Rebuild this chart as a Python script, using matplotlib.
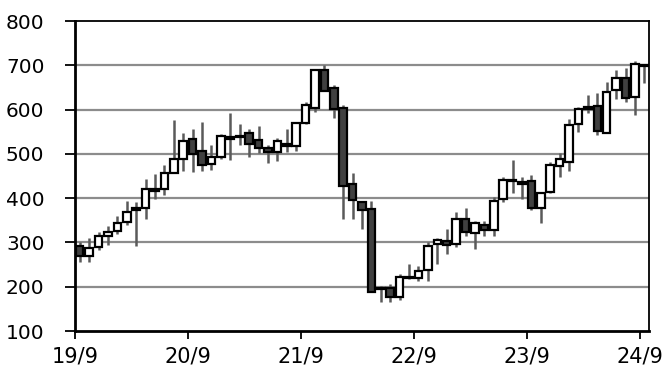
import matplotlib
matplotlib.use("Agg")
import matplotlib.pyplot as plt
import numpy as np

# monthly candles, 2019/9 .. 2024/9
opens = [292, 269, 290, 314, 325, 347, 374, 377, 417, 420, 456, 489, 533, 507, 478,
         492, 533, 537, 546, 531, 514, 504, 523, 518, 570, 604, 689, 649, 604, 433,
         391, 376, 195, 198, 176, 220, 220, 238, 296, 304, 296, 353, 321, 340, 329,
         397, 441, 437, 438, 377, 414, 473, 482, 567, 601, 608, 547, 645, 672, 629, 701]
closes = [270, 288, 314, 324, 345, 369, 377, 420, 421, 456, 489, 529, 499, 474, 492,
          541, 537, 540, 522, 514, 504, 529, 518, 570, 610, 689, 641, 601, 427, 395,
          374, 189, 198, 176, 223, 223, 235, 291, 306, 295, 353, 323, 344, 329, 394,
          441, 438, 433, 377, 412, 474, 488, 565, 602, 606, 551, 640, 672, 627, 702, 698]
highs = [300, 309, 324, 337, 359, 393, 392, 444, 454, 474, 576, 548, 557, 572, 520,
         544, 592, 567, 556, 562, 520, 535, 556, 570, 617, 689, 700, 655, 610, 457,
         394, 394, 202, 207, 229, 251, 247, 302, 310, 330, 368, 378, 349, 348, 402,
         448, 486, 447, 453, 414, 482, 501, 578, 606, 632, 638, 662, 689, 695, 709, 702]
lows = [255, 256, 283, 294, 320, 339, 292, 353, 399, 407, 463, 462, 459, 462, 464,
        489, 487, 520, 493, 501, 480, 483, 504, 506, 567, 595, 641, 581, 352, 353,
        330, 189, 165, 165, 171, 217, 214, 212, 251, 274, 289, 315, 285, 315, 315,
        392, 412, 399, 373, 344, 411, 448, 462, 550, 592, 542, 546, 625, 617, 587, 661]
tick_labels = ["19/9", "20/9", "21/9", "22/9", "23/9", "24/9"]

o = np.array(opens)
c = np.array(closes)
x = np.arange(len(o))
up = c >= o

fig = plt.figure(figsize=(6.68, 3.72), dpi=100)
ax = fig.add_axes([0.1123, 0.1102, 0.8593, 0.8333])

for v in range(200, 800, 100):
    ax.axhline(v, color="#8c8c8c", lw=1.6, zorder=0)

ax.vlines(x, lows, highs, color="#5a5a5a", lw=1.8, zorder=1)
body_low = np.minimum(o, c)
body_h = np.maximum(np.abs(c - o), 1.5)
ax.bar(x[up], body_h[up], bottom=body_low[up], width=0.8,
       color="white", edgecolor="black", linewidth=1.6, zorder=2)
ax.bar(x[~up], body_h[~up], bottom=body_low[~up], width=0.8,
       color="#404040", edgecolor="black", linewidth=1.6, zorder=2)

ax.set_xlim(-0.5, len(o) - 0.5)
ax.set_ylim(100, 800)
ax.set_yticks(range(100, 801, 100))
ax.set_xticks(np.arange(len(tick_labels)) * 12 - 0.5)
ax.set_xticklabels(tick_labels)

for s in ax.spines.values():
    s.set_color("black")
    s.set_linewidth(1.3)
ax.spines["left"].set_linewidth(2)
ax.spines["bottom"].set_linewidth(2)
ax.tick_params(axis="y", direction="out", length=7, width=1.3, labelsize=14.5, pad=15)
ax.tick_params(axis="x", direction="out", length=6, width=1.3, labelsize=15, pad=5)

fig.savefig("out.png", dpi=100)
